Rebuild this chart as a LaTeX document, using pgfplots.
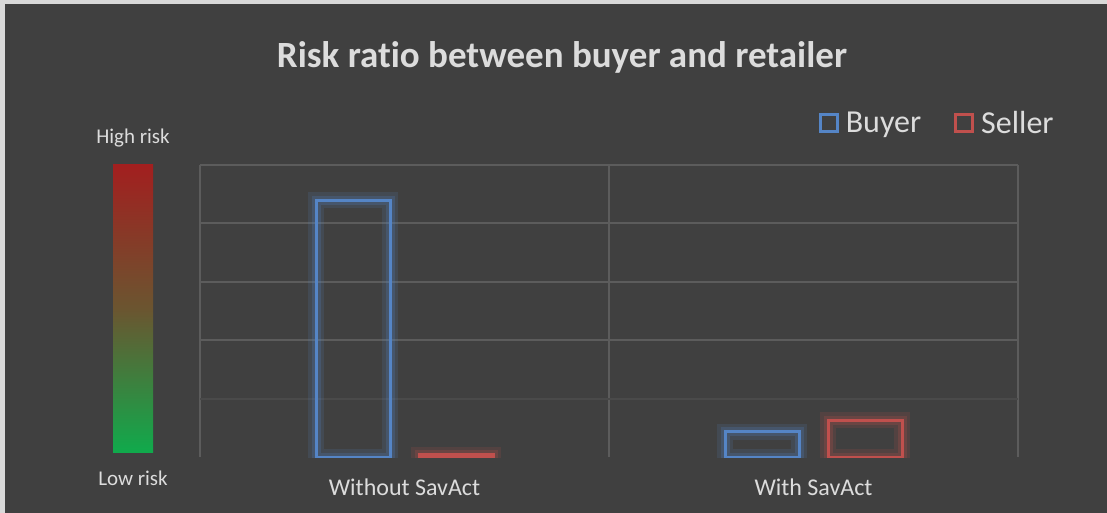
\documentclass[border=0pt]{standalone}
\usepackage{fontspec}
\setmainfont[Ligatures={NoCommon}]{Carlito}
\usepackage{pgfplots}
\pgfplotsset{compat=1.18}
\definecolor{bgdark}{HTML}{404040}
\definecolor{frame}{HTML}{D9D9D9}
\definecolor{txt}{HTML}{DCDCDC}
\definecolor{gridc}{HTML}{5C5C5C}
\definecolor{gridf}{HTML}{4A4A4A}
\definecolor{buyerblue}{HTML}{5585C6}
\definecolor{sellerred}{HTML}{C0504D}
\definecolor{riskhigh}{HTML}{A21F1F}
\definecolor{riskmid}{HTML}{6B5530}
\definecolor{risklow}{HTML}{10AA4C}
\begin{document}
\begin{tikzpicture}
\useasboundingbox (0pt,0pt) rectangle (1107pt,-513pt);
\fill[frame] (0pt,0pt) rectangle (1107pt,-513pt);
\fill[bgdark] (5pt,-4pt) rectangle (1107pt,-513pt);
% title
\node[text=txt, font=\fontsize{37}{42}\selectfont\bfseries] at (562pt,-57pt) {Risk ratio between buyer and retailer};
% risk gradient
\shade[top color=riskhigh, bottom color=risklow, middle color=riskmid] (113pt,-165pt) rectangle (153pt,-452pt);
\node[text=txt, font=\fontsize{21}{24}\selectfont] at (133pt,-138pt) {High risk};
\node[text=txt, font=\fontsize{21}{24}\selectfont] at (133pt,-478pt) {Low risk};
\begin{axis}[
  at={(200pt,-457pt)}, anchor=south west,
  scale only axis, width=818pt, height=292pt,
  xmin=-0.5, xmax=1.5, ymin=0, ymax=5,
  ybar, bar width=74pt,
  axis line style={draw=none},
  xtick={0,1}, xticklabels={Without SavAct, With SavAct},
  minor xtick={-0.5,0.5,1.5}, xminorgrids,
  minor grid style={gridc, line width=2pt},
  ytick={2,3,4,5}, yticklabels={}, ymajorgrids,
  major grid style={gridc, line width=2pt},
  extra y ticks={1}, extra y tick labels={},
  extra y tick style={major grid style={gridf, line width=2pt}},
  major tick length=0pt, minor tick length=0pt,
  xticklabel style={text=txt, font=\fontsize{24}{28}\selectfont, yshift=-18pt},
  legend image code/.code={\draw[#1, line width=3pt, fill=none] (0pt,-8.5pt) rectangle (17pt,8.5pt);},
  legend style={at={(1.056,1.09)}, anchor=south east, draw=none, fill=none,
    text=txt, font=\fontsize{32}{36}\selectfont, legend columns=2,
    nodes={inner xsep=7pt},
    /tikz/every even column/.append style={column sep=26pt}},
]
% glow
\addplot[forget plot, draw=buyerblue, draw opacity=0.15, line width=16pt, fill=none, bar shift=-51.5pt] coordinates {(0,4.40) (1,0.43)};
\addplot[forget plot, draw=buyerblue, draw opacity=0.22, line width=9pt, fill=none, bar shift=-51.5pt] coordinates {(0,4.40) (1,0.43)};
\addplot[forget plot, draw=sellerred, draw opacity=0.15, line width=16pt, fill=none, bar shift=51.5pt] coordinates {(0,0.04) (1,0.63)};
\addplot[forget plot, draw=sellerred, draw opacity=0.22, line width=9pt, fill=none, bar shift=51.5pt] coordinates {(0,0.04) (1,0.63)};
% bars
\addplot[draw=buyerblue, line width=3pt, fill=none, bar shift=-51.5pt] coordinates {(0,4.40) (1,0.43)};
\addlegendentry{Buyer}
\addplot[draw=sellerred, line width=3pt, fill=none, bar shift=51.5pt] coordinates {(0,0.04) (1,0.63)};
\addlegendentry{Seller}
\end{axis}
\end{tikzpicture}
\end{document}
